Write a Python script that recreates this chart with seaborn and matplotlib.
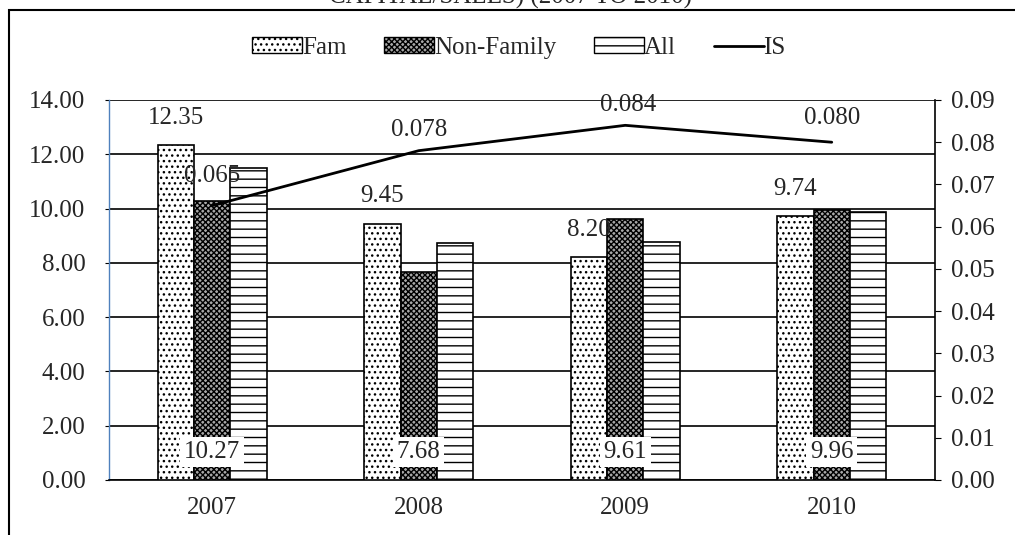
import numpy as np
import pandas as pd
import seaborn as sns
import matplotlib
matplotlib.use("Agg")
from matplotlib import pyplot as plt
from matplotlib.patches import Patch, Rectangle
from matplotlib.lines import Line2D

# values
years = ["2007", "2008", "2009", "2010"]
fam = [12.35, 9.45, 8.20, 9.74]
non_family = [10.27, 7.68, 9.61, 9.96]
all_firms = [11.50, 8.75, 8.78, 9.87]
is_ratio = [0.065, 0.078, 0.084, 0.080]

series_names = ["Fam", "Non-Family", "All"]

df = pd.DataFrame({
    "year": years * 3,
    "value": fam + non_family + all_firms,
    "series": [s for s in series_names for _ in years],
})

sns.set_style("white")
plt.rcParams["font.family"] = ["Liberation Serif", "DejaVu Serif"]
plt.rcParams["font.size"] = 18
plt.rcParams["hatch.linewidth"] = 1.0

fig = plt.figure(figsize=(10.15, 5.35), dpi=100)
ax = fig.add_axes([109 / 1015, 1 - 480 / 535, 826 / 1015, 380 / 535])

sns.barplot(data=df, x="year", y="value", hue="series", hue_order=series_names,
            palette=["white", "#a8a8a8", "white"], width=0.53, gap=0,
            edgecolor="black", linewidth=1.2, legend=False, ax=ax, zorder=3)

hatches = {"Fam": "...", "Non-Family": "xxxxxx", "All": "--"}
hatch_cols = {"Fam": "#333333", "Non-Family": "black", "All": "#666666"}
for cont, name in zip(ax.containers, series_names):
    for p in cont:
        p.set_hatch(hatches[name])
        if hasattr(p, "set_hatchcolor"):
            p.set_hatchcolor(hatch_cols[name])

ax.set_ylim(0, 14)
ax.set_xlim(-0.5, 3.5)
ax.set_yticks(np.arange(0, 14.1, 2))
ax.set_yticklabels([f"{v:.2f}" for v in np.arange(0, 14.1, 2)])
ax.yaxis.grid(True, color="black", linewidth=1.2, zorder=0)
ax.set_axisbelow(True)
ax.set_xlabel("")
ax.set_ylabel("")
ax.tick_params(axis="x", which="major", length=0, pad=12)
ax.set_xticks([0.5, 1.5, 2.5, 3.5, -0.5], minor=True)
ax.tick_params(axis="x", which="minor", length=4, direction="out", color="black")
ax.tick_params(axis="y", length=3, direction="out", color="black", pad=14)
for s in ["top", "right"]:
    ax.spines[s].set_visible(False)
ax.spines["left"].set_color("#4f81bd")
ax.spines["left"].set_linewidth(1.0)
ax.spines["bottom"].set_color("black")
ax.spines["bottom"].set_linewidth(1.2)

# secondary axis for IS line
ax2 = ax.twinx()
sns.lineplot(x=years, y=is_ratio, color="black", linewidth=2, ax=ax2, zorder=5)
ax2.set_ylim(0, 0.09)
ax2.set_yticks(np.arange(0, 0.091, 0.01))
ax2.set_yticklabels([f"{v:.2f}" for v in np.arange(0, 0.091, 0.01)])
ax2.tick_params(axis="y", length=4, direction="out", color="black", pad=7.5)
for s in ["top", "left", "bottom"]:
    ax2.spines[s].set_visible(False)
ax2.spines["right"].set_color("black")
ax2.spines["right"].set_linewidth(1.2)
ax2.set_xlim(-0.5, 3.5)

# labels
for p, v in zip(ax.containers[0], fam):
    ax.annotate(f"{v:.2f}", (p.get_x() + p.get_width() / 2, p.get_height()),
                xytext=(0, 27), textcoords="offset pixels", ha="center", va="center",
                zorder=6)

for p, v in zip(ax.containers[1], non_family):
    ax.annotate(f"{v:.2f}", (p.get_x() + p.get_width() / 2, 0),
                xytext=(0, 28), textcoords="offset pixels", ha="center", va="center",
                zorder=6,
                bbox=dict(boxstyle="square,pad=0.15", fc="white", ec="none"))

is_offsets = [(0, 30), (0, 21), (3, 20), (0, 24)]
for i, (v, off) in enumerate(zip(is_ratio, is_offsets)):
    ax2.annotate(f"{v:.3f}", (i, v), xytext=off, textcoords="offset pixels",
                 ha="center", va="center", zorder=6)

# legend
handles = [
    Patch(facecolor="white", edgecolor="black", hatch="..."),
    Patch(facecolor="#a8a8a8", edgecolor="black", hatch="xxxxxx"),
    Patch(facecolor="white", edgecolor="black", hatch="--"),
    Line2D([0], [0], color="black", linewidth=2),
]
fig.legend(handles, ["Fam", "Non-Family", "All", "IS"], loc="center",
           bbox_to_anchor=(519 / 1015, 1 - 48 / 535), ncol=4, frameon=False,
           handlelength=2.0, handleheight=0.6, handletextpad=0.0,
           columnspacing=1.5, borderpad=0)

# chart frame and cut-off title
fig.patches.append(Rectangle((9 / 1015, -0.1), 1.2, 1.1 - 10 / 535,
                             transform=fig.transFigure, fill=False,
                             edgecolor="black", linewidth=1.5))
fig.text(0.503, 1.005, "CAPITAL/SALES) (2007 TO 2010)", ha="center", va="center")

fig.savefig("out.png", dpi=100)
